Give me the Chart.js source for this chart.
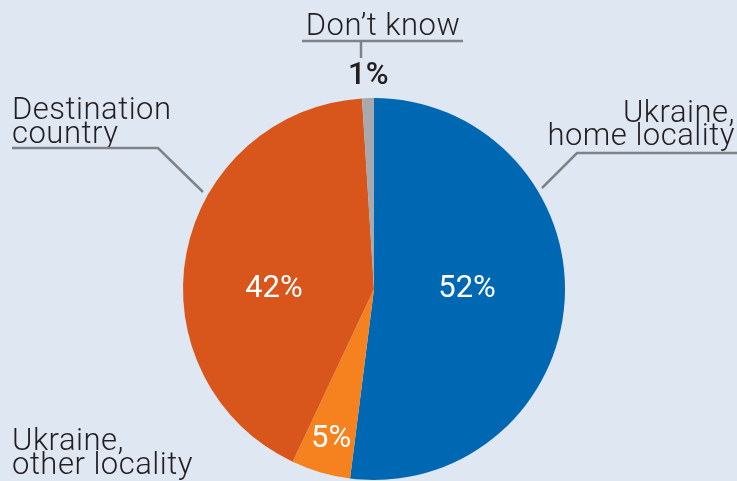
<!DOCTYPE html>
<html lang="en">
<head>
    <meta charset="UTF-8">
    <title>Where respondents plan to live</title>
    <style>
        body {
            margin: 0;
            padding: 0;
            background-color: #dfe7f3;
        }
        .chart-box {
            width: 737px;
            height: 481px;
        }
    </style>
</head>
<body>

<div class="chart-box">
    <canvas id="pieChart" width="737" height="481"></canvas>
</div>

<script src="https://cdn.jsdelivr.net/npm/chart.js"></script>
<script>
    // slices run clockwise from 12 o'clock
    const categories = ['Ukraine, home locality', 'Ukraine, other locality', 'Destination country', 'Don\u2019t know'];
    const shares = [52, 5, 42, 1];
    const sliceColors = ['#0067b2', '#f5821f', '#d8561b', '#a7a9ac'];

    const textColor = '#231f20';
    const leaderColor = '#7f8388';
    const labelFont = '300 31px Roboto, "Open Sans", sans-serif';

    // where each percentage sits, relative to the pie centre in units of radius
    const pctSpots = [[0.487, 0], [-0.225, 0.785], [-0.524, 0], [-0.03, -1.115]];

    function leader(ctx, pts) {
        ctx.beginPath();
        ctx.moveTo(pts[0][0], pts[0][1]);
        for (let i = 1; i < pts.length; i++) ctx.lineTo(pts[i][0], pts[i][1]);
        ctx.stroke();
    }

    function lines(ctx, rows, x, y0, step, align) {
        ctx.textAlign = align;
        rows.forEach((t, i) => ctx.fillText(t, x, y0 + i * step));
    }

    const pieLabels = {
        id: 'pieLabels',
        afterDatasetsDraw(chart) {
            const ctx = chart.ctx;
            const arc0 = chart.getDatasetMeta(0).data[0];
            const cx = arc0.x, cy = arc0.y, r = arc0.outerRadius;

            ctx.save();
            ctx.textBaseline = 'middle';
            ctx.textAlign = 'center';
            shares.forEach((v, i) => {
                const [fx, fy] = pctSpots[i];
                const outside = i === 3;
                ctx.fillStyle = outside ? textColor : '#ffffff';
                ctx.font = outside ? '500 31px Roboto, sans-serif' : '400 31px Roboto, sans-serif';
                ctx.fillText(v + '%', cx + fx * r, cy + fy * r);
            });

            // category names with their leader lines
            ctx.textBaseline = 'alphabetic';
            ctx.fillStyle = textColor;
            ctx.font = labelFont;
            ctx.letterSpacing = '0.5px';
            ctx.strokeStyle = leaderColor;
            ctx.lineWidth = 2.5;

            lines(ctx, ['Don\u2019t know'], 383, 35, 0, 'center');
            leader(ctx, [[302, 41], [463, 41]]);
            leader(ctx, [[361, 41], [361, 58]]);

            lines(ctx, ['Destination', 'country'], 12, 119, 24, 'left');
            leader(ctx, [[12, 148], [158, 148], [203, 192]]);

            lines(ctx, ['Ukraine,', 'home locality'], 735, 122, 23, 'right');
            leader(ctx, [[737, 153], [577, 153], [542, 188]]);

            lines(ctx, ['Ukraine,', 'other locality'], 12, 450, 24, 'left');
            ctx.restore();
        }
    };

    const ctx = document.getElementById('pieChart').getContext('2d');
    const pieChart = new Chart(ctx, {
        type: 'pie',
        data: {
            labels: categories,
            datasets: [{
                data: shares,
                backgroundColor: sliceColors,
                borderWidth: 0,
                hoverOffset: 0
            }]
        },
        options: {
            responsive: false,
            animation: false,
            layout: {
                padding: { left: 183, right: 172, top: 98, bottom: 1 }
            },
            plugins: {
                legend: { display: false },
                tooltip: { enabled: false }
            }
        },
        plugins: [pieLabels]
    });
</script>

</body>
</html>
